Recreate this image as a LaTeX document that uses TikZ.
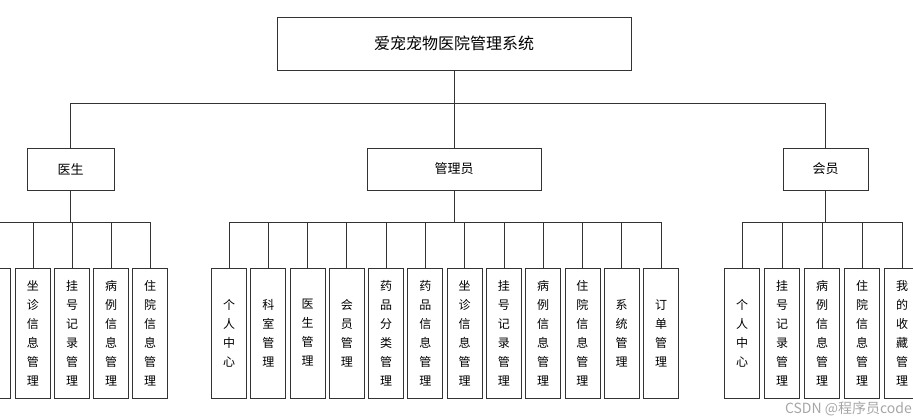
\documentclass[tikz,border=0pt]{standalone}
\usepackage{fontspec}
\setmainfont{Noto Sans CJK SC}
\begin{document}
\begin{tikzpicture}[x=1pt,y=-1pt,
  box/.style={draw=black!80,line width=0.8pt,fill=white,inner sep=0pt},
  leaf/.style={box,minimum width=35pt,minimum height=130pt,font=\fontsize{12}{19}\selectfont,align=center,text width=12pt},
  wire/.style={draw=black!80,line width=0.8pt}]
\useasboundingbox (0,0) rectangle (913,419);
\begin{scope}
\clip (0,0) rectangle (913,419);
\node[box,minimum width=354pt,minimum height=53pt,font=\fontsize{16}{16}\selectfont] (root) at (454,43.5) {爱宠宠物医院管理系统};
\node[box,minimum width=87pt,minimum height=42pt,font=\fontsize{13}{13}\selectfont] (doc) at (70.5,169) {医生};
\node[box,minimum width=174pt,minimum height=42pt,font=\fontsize{13}{13}\selectfont] (adm) at (454,169) {管理员};
\node[box,minimum width=85pt,minimum height=42pt,font=\fontsize{13}{13}\selectfont] (mem) at (825.5,169) {会员};
\coordinate (r1) at (454,103);
\draw[wire] (root.south) -- (r1);
\draw[wire] (doc.north) -- (70.5,103) -- (825.5,103) -- (mem.north);
\draw[wire] (r1) -- (adm.north);
% doctor leaves
\foreach \i/\x/\t in {0/-7/{},1/33/坐\\诊\\信\\息\\管\\理,2/72/挂\\号\\记\\录\\管\\理,3/111/病\\例\\信\\息\\管\\理,4/150/住\\院\\信\\息\\管\\理}{
  \node[leaf] (d\i) at (\x,333) {\t};
  \draw[wire] (d\i.north) -- (\x,222);
}
\draw[wire] (-10,222) -- (150,222);
\draw[wire] (doc.south) -- (70.5,222);
% admin leaves
\foreach \i/\t [count=\n from 0] in {1/个\\人\\中\\心,2/科\\室\\管\\理,3/医\\生\\管\\理,4/会\\员\\管\\理,5/药\\品\\分\\类\\管\\理,6/药\\品\\信\\息\\管\\理,7/坐\\诊\\信\\息\\管\\理,8/挂\\号\\记\\录\\管\\理,9/病\\例\\信\\息\\管\\理,10/住\\院\\信\\息\\管\\理,11/系\\统\\管\\理,12/订\\单\\管\\理}{
  \pgfmathsetmacro{\xx}{229+39.2727*\n}
  \node[leaf] (a\i) at (\xx,333) {\t};
  \draw[wire] (a\i.north) -- (\xx,222);
}
\draw[wire] (a1.north |- 0,222) -- (a12.north |- 0,222);
\draw[wire] (adm.south) -- (454,222);
% member leaves
\foreach \i/\x/\t in {1/742/个\\人\\中\\心,2/782/挂\\号\\记\\录\\管\\理,3/822/病\\例\\信\\息\\管\\理,4/862/住\\院\\信\\息\\管\\理,5/902/我\\的\\收\\藏\\管\\理}{
  \node[leaf] (m\i) at (\x,333) {\t};
  \draw[wire] (m\i.north) -- (\x,222);
}
\draw[wire] (742,222) -- (902,222);
\draw[wire] (mem.south) -- (825.5,222);
\node[text=black!35,font=\fontsize{14}{14}\selectfont,anchor=south east,inner sep=1pt] (wm) at (913,417) {CSDN @程序员code};
\end{scope}
\end{tikzpicture}
\end{document}
